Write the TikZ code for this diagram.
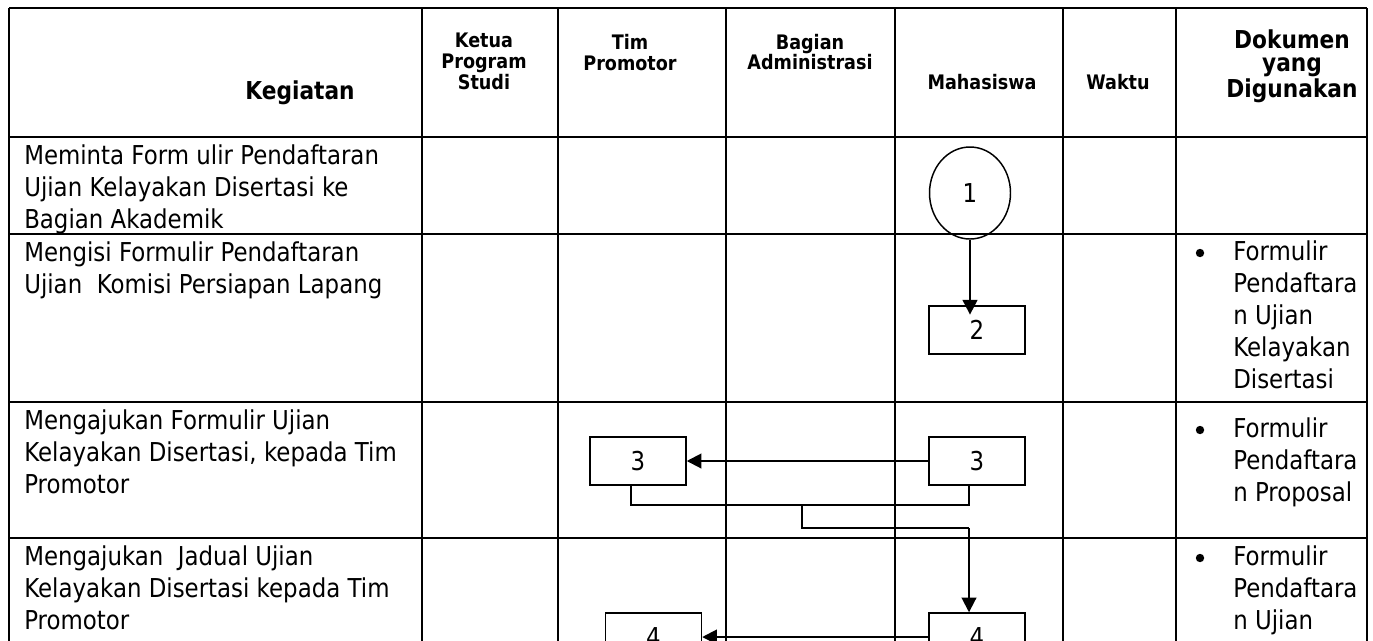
\documentclass[tikz,border=0pt]{standalone}
\usepackage{fontspec}
\setmainfont{DejaVu Sans}[FakeStretch=0.88]
\usetikzlibrary{arrows.meta,positioning,calc,shapes.geometric}
\newcommand{\bodyfont}{\fontsize{19.5pt}{24pt}\selectfont}
\newcommand{\headfont}{\fontsize{15pt}{15.5pt}\selectfont\bfseries}
\newcommand{\bigheadfont}{\fontsize{18.5pt}{17.5pt}\selectfont\bfseries}

\begin{document}
\begin{tikzpicture}[x=0.75pt, y=-0.75pt,
  grid/.style={line width=1.7pt},
  head/.style={font=\headfont, align=center, inner sep=0pt},
  bighead/.style={font=\bigheadfont, align=center, inner sep=0pt},
  txt/.style={font=\bodyfont, align=left, anchor=north west, inner sep=0pt},
  bul/.style={circle, fill, inner sep=0pt, minimum size=6.3pt},
  box/.style={rectangle, draw, line width=1.1pt, minimum width=72pt,
              minimum height=36pt, inner sep=0pt, font=\bodyfont},
  oval/.style={ellipse, draw, line width=1.1pt, minimum width=60.75pt,
               minimum height=69pt, inner sep=0pt, font=\bodyfont},
  arr/.style={-{Triangle[length=11pt,width=11pt]}, line width=1.5pt},
  link/.style={line width=0.8pt}
]
  \useasboundingbox (0,0) rectangle (1373,640);
  \clip (0,0) rectangle (1373,640);

  % table
  \foreach \x in {9,422,558,726,895,1063,1176,1367}
    \draw[grid] (\x,8) -- (\x,650);
  \foreach \y in {8,137,234,402,538}
    \draw[grid] (9,\y) -- (1367,\y);

  % header
  \node[bighead] (hkeg) at (300,93) {Kegiatan};
  \node[head] (hkps) at (484,61.5) {Ketua\\Program\\Studi};
  \node[head] (htim) at (630,52.5) {Tim\\Promotor};
  \node[head] (hadm) at (810,52) {Bagian\\Administrasi};
  \node[head] (hmhs) at (982,82) {Mahasiswa};
  \node[head] (hwkt) at (1118,82) {Waktu};
  \node[bighead] (hdok) at (1292,66) {Dokumen\\yang\\Digunakan};

  % kegiatan
  \node[txt] (keg1) at (24,144)
    {Meminta Form ulir Pendaftaran\\Ujian Kelayakan Disertasi ke\\Bagian Akademik};
  \node[txt] (keg2) at (24,241)
    {Mengisi Formulir Pendaftaran\\Ujian~ Komisi Persiapan Lapang};
  \node[txt] (keg3) at (24,409)
    {Mengajukan Formulir Ujian\\Kelayakan Disertasi, kepada Tim\\Promotor};
  \node[txt] (keg4) at (24,545)
    {Mengajukan~ Jadual Ujian\\Kelayakan Disertasi kepada Tim\\Promotor};

  % dokumen
  \node[bul] (bul2) at (1200,253) {};
  \node[txt] (dok2) at (1233,240)
    {Formulir\\Pendaftara\\n Ujian\\Kelayakan\\Disertasi};
  \node[bul] (bul3) at (1200,430) {};
  \node[txt] (dok3) at (1233,417)
    {Formulir\\Pendaftara\\n Proposal};
  \node[bul] (bul4) at (1200,558) {};
  \node[txt] (dok4) at (1233,545)
    {Formulir\\Pendaftara\\n Ujian};

  % alur
  \node[oval] (mhs1) at (970,193) {1};
  \node[box]  (mhs2) at (977,330) {2};
  \node[box]  (tim3) at (638,461) {3};
  \node[box]  (mhs3) at (977,461) {3};
  \node[box]  (tim4) at (653.5,637) {4};
  \node[box]  (mhs4) at (977,637) {4};

  \draw[arr, shorten >=-7pt] (mhs1.south) -- (mhs1.south |- mhs2.north);
  \draw[arr] (mhs3.west) -- (tim3.east);
  \coordinate (jn) at (802,505);
  \coordinate (kn) at (969,528);
  \draw[link] ($(tim3.south)+(-7,0)$) |- (jn) -| ($(mhs3.south)+(-8,0)$);
  \draw[link] (jn) |- (kn);
  \draw[arr] (kn) -- ($(mhs4.north)+(-8,0)$);
  \draw[arr] (mhs4.west) -- (tim4.east);
\end{tikzpicture}
\end{document}
